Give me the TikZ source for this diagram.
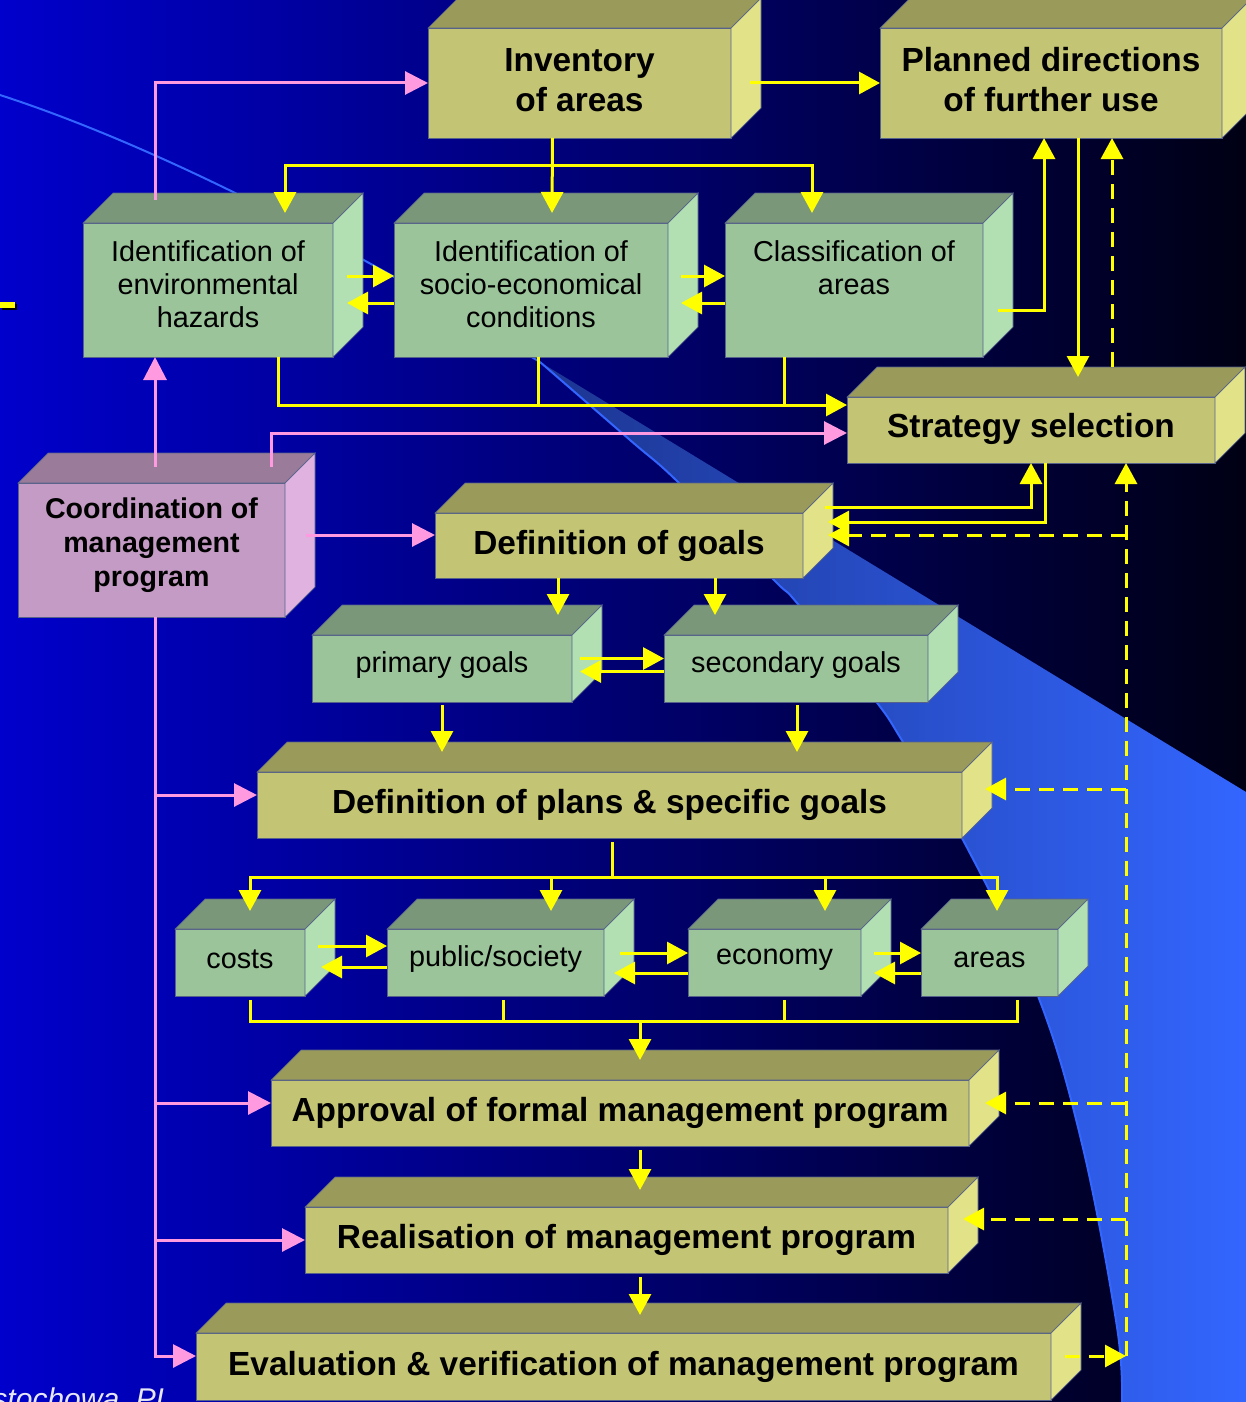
\documentclass[tikz,border=0pt]{standalone}
\usepackage{fontspec}
\setmainfont{Liberation Sans}
\usetikzlibrary{calc,arrows.meta}
\definecolor{bgL}{HTML}{0000CC}
\definecolor{bgM}{HTML}{000088}
\definecolor{bgR}{HTML}{000014}
\definecolor{wdA}{HTML}{1C3590}
\definecolor{wdB}{HTML}{3366FF}
\definecolor{olF}{HTML}{C4C475}
\definecolor{olT}{HTML}{9A9A5A}
\definecolor{olS}{HTML}{E2E288}
\definecolor{grF}{HTML}{9BC49B}
\definecolor{grT}{HTML}{7A977A}
\definecolor{grS}{HTML}{B2E0B2}
\definecolor{mvF}{HTML}{C49BC4}
\definecolor{mvT}{HTML}{9A7B9A}
\definecolor{mvS}{HTML}{E0B2E0}
\definecolor{edgec}{HTML}{56628A}
\definecolor{yel}{HTML}{FFFF00}
\definecolor{pnk}{HTML}{FF99E0}
\definecolor{txtc}{HTML}{E6E6F4}
\tikzset{
  facebase/.style={draw=edgec, line width=0.35pt},
  olivefront/.style={facebase, fill=olF, inner sep=0pt, outer sep=0pt},
  olivetop/.style={facebase, fill=olT},
  oliveside/.style={facebase, fill=olS},
  olivetext/.style={font=\fontsize{16.7}{20}\selectfont\bfseries, align=center, inner sep=0pt},
  greenfront/.style={facebase, fill=grF, inner sep=0pt, outer sep=0pt},
  greentop/.style={facebase, fill=grT},
  greenside/.style={facebase, fill=grS},
  greentext/.style={font=\fontsize{14.4}{16.5}\selectfont, align=center, inner sep=0pt},
  mauvefront/.style={facebase, fill=mvF, inner sep=0pt, outer sep=0pt},
  mauvetop/.style={facebase, fill=mvT},
  mauveside/.style={facebase, fill=mvS},
  mauvetext/.style={font=\fontsize{14.3}{17}\selectfont\bfseries, align=center, inner sep=0pt},
  yl/.style={draw=yel, line width=1.5pt},
  ya/.style={yl, -{Triangle[length=10.5pt,width=11pt]}},
  yd/.style={yl, dash pattern=on 7.5pt off 4.5pt},
  yda/.style={yd, -{Triangle[length=10.5pt,width=11pt]}},
  pl/.style={draw=pnk, line width=1.5pt},
  pa/.style={pl, -{Triangle[length=11.5pt,width=11.5pt]}},
}
% #1 name, #2 x1, #3 y1, #4 x2, #5 y2, #6 kind, #7 text y offset, #8 text
\newcommand\cubebox[8]{%
  \node[#6front, minimum width={(#4-#2)*0.5pt}, minimum height={(#5-#3)*0.5pt}, anchor=north west] (#1) at (#2,#3) {};
  \filldraw[#6top] (#1.north west) -- ++(30,-30) -- ($(#1.north east)+(30,-30)$) -- (#1.north east) -- cycle;
  \filldraw[#6side] (#1.north east) -- ++(30,-30) -- ($(#1.south east)+(30,-30)$) -- (#1.south east) -- cycle;
  \node[#6text] (#1-t) at ($(#1.center)+(0,#7)$) {#8};
}
\begin{document}
\begin{tikzpicture}[x=0.5pt,y=-0.5pt]
\useasboundingbox (0,0) rectangle (1246,1402);
% background
\shade[left color=bgL, middle color=bgM, right color=bgR] (0,0) rectangle (1246,1402);
% light wedge
\shade[left color=wdA, middle color=wdB, right color=wdB]
  (540,362) -- (1246,792) -- (1246,1402) -- (1122,1402)
  -- plot[smooth, tension=0.6] coordinates {(1122,1402) (1117,1327) (1083,1148) (1038,996) (963,840) (903,742) (875,700) (797,603) (774,580) (678,482) (630,440) (540,362)} -- cycle;
\draw[wdB, line width=1pt] (0,95) .. controls (200,160) and (420,290) .. (540,362);
\draw[wdB, line width=1pt] plot[smooth, tension=0.6] coordinates {(540,362) (630,440) (678,482) (774,580) (797,603) (875,700) (903,742) (963,840) (1038,996) (1083,1148) (1117,1327) (1122,1402)};
% small mark on the left
\fill[black] (2,304) rectangle (17,310);
\fill[yel] (0,302) rectangle (15,308);

% boxes
\cubebox{inv}{428}{28}{731}{138}{olive}{-3}{Inventory\\of areas}
\cubebox{plan}{880}{28}{1222}{138}{olive}{-3}{Planned directions\\of further use}
\cubebox{env}{83}{223}{333}{357}{green}{-6}{Identification of\\environmental\\hazards}
\cubebox{soc}{394}{223}{668}{357}{green}{-6}{Identification of\\socio-economical\\conditions}
\cubebox{cls}{725}{223}{983}{357}{green}{-22}{Classification of\\areas}
\cubebox{strat}{847}{397}{1215}{463}{olive}{-1}{Strategy selection}
\cubebox{coord}{18}{483}{285}{617}{mauve}{-5}{Coordination of\\management\\program}
\cubebox{defg}{435}{513}{803}{578}{olive}{0}{Definition of goals}
\cubebox{prim}{312}{635}{572}{702}{green}{-3}{primary goals}
\cubebox{sec}{664}{635}{928}{702}{green}{-3}{secondary goals}
\cubebox{plans}{257}{772}{962}{838}{olive}{0}{Definition of plans \& specific goals}
\cubebox{costs}{175}{929}{305}{996}{green}{-3}{costs}
\cubebox{pub}{387}{929}{604}{996}{green}{-3}{public/society}
\cubebox{eco}{688}{929}{861}{996}{green}{-3}{economy}
\cubebox{areas}{921}{929}{1058}{996}{green}{-3}{areas}
\cubebox{appr}{271}{1080}{969}{1146}{olive}{0}{Approval of formal management program}
\cubebox{real}{305}{1207}{948}{1273}{olive}{0}{Realisation of management program}
\cubebox{eval}{196}{1333}{1051}{1400}{olive}{0}{Evaluation \& verification of management program}

% yellow connectors, top part
\draw[ya] ($(inv.east)+(19,0)$) -- (plan.west);
\coordinate (d0) at ($(inv.south)+(-27,27)$);
\draw[ya] ($(inv.south)+(-27,0)$) -- ($(soc.north)+(21,-10)$);
\draw[ya] (d0) -| ($(env.north)+(77,-10)$);
\draw[ya] (d0) -| ($(cls.north)+(-42,-10)$);
\draw[ya] ($(env.east)+(14,-14)$) -- ($(soc.west)+(0,-14)$);
\draw[ya] ($(soc.west)+(0,13)$) -- ($(env.east)+(14,13)$);
\draw[ya] ($(soc.east)+(13,-14)$) -- ($(cls.west)+(0,-14)$);
\draw[ya] ($(cls.west)+(0,13)$) -- ($(soc.east)+(13,13)$);
\draw[ya] ($(cls.east)+(15,20)$) -| ($(plan.south)+(-7,0)$);
\draw[ya] ($(plan.south)+(27,0)$) -- ($(strat.north)+(47,-20)$);
\draw[yda] ($(strat.north)+(81,-30)$) -- ($(plan.south)+(61,0)$);
\draw[ya] ($(env.south)+(70,0)$) |- ($(strat.west)+(0,-25)$);
\draw[yl] ($(soc.south)+(7,0)$) -- ($(soc.south)+(7,48)$);
\draw[yl] ($(cls.south)+(-70,0)$) -- ($(cls.south)+(-70,48)$);

% strategy <-> goals
\draw[ya] ($(defg.east)+(22,-38.5)$) -| (strat.south);
\draw[ya] ($(strat.south)+(14,0)$) |- ($(defg.east)+(25,-23.5)$);
\coordinate (dvt) at ($(strat.south)+(95,0)$);
\coordinate (dvb) at ($(eval.east)+(75,-10.5)$);
\draw[yda] (dvb) -- (dvt);
\coordinate (dg3) at ($(defg.east)+(25,-10.5)$);
\draw[yda] (dvt |- dg3) -- (dg3);
\coordinate (pl3) at ($(plans.east)+(23,-16)$);
\draw[yda] (dvt |- pl3) -- (pl3);
\coordinate (ap3) at ($(appr.east)+(16,-10)$);
\draw[yda] (dvt |- ap3) -- (ap3);
\coordinate (re3) at ($(real.east)+(15,-21)$);
\draw[yda] (dvt |- re3) -- (re3);
\draw[yda] ($(eval.east)+(14,-10.5)$) -- (dvb);

% goals
\draw[ya] ($(defg.south)+(-61,0)$) -- ($(prim.north)+(116,-20)$);
\draw[ya] ($(defg.south)+(96,0)$) -- ($(sec.north)+(-81,-20)$);
\draw[ya] ($(prim.east)+(8,-10)$) -- ($(sec.west)+(0,-10)$);
\draw[ya] ($(sec.west)+(0,3)$) -- ($(prim.east)+(8,3)$);
\draw[ya] ($(prim.south)+(0,3)$) -- ($(prim.south |- plans.north)+(0,-20)$);
\draw[ya] ($(sec.south)+(1,3)$) -- ($(sec.south |- plans.north)+(1,-20)$);

% plans -> sub goals
\coordinate (dd) at ($(plans.south)+(3,39)$);
\draw[yl] ($(plans.south)+(3,4)$) -- (dd);
\draw[ya] (dd) -| ($(costs.north)+(10,-18)$);
\draw[ya] (dd) -| ($(areas.north)+(7.5,-18)$);
\coordinate (pbt) at ($(pub.north)+(55.5,-18)$);
\draw[ya] (pbt |- dd) -- (pbt);
\coordinate (ect) at ($(eco.north)+(50.5,-18)$);
\draw[ya] (ect |- dd) -- (ect);
\draw[ya] ($(costs.east)+(13,-16.5)$) -- ($(pub.west)+(0,-16.5)$);
\draw[ya] ($(pub.west)+(0,4.5)$) -- ($(costs.east)+(16,4.5)$);
\draw[ya] ($(pub.east)+(16,-9.5)$) -- ($(eco.west)+(0,-9.5)$);
\draw[ya] ($(eco.west)+(0,10.5)$) -- ($(pub.east)+(10,10.5)$);
\draw[ya] ($(eco.east)+(13,-9.5)$) -- ($(areas.west)+(0,-9.5)$);
\draw[ya] ($(areas.west)+(0,10.5)$) -- ($(eco.east)+(13,10.5)$);
\coordinate (cl) at ($(costs.south)+(10,25)$);
\coordinate (ar) at ($(areas.south)+(27.5,4)$);
\draw[yl] ($(costs.south)+(10,4)$) -- (cl) -| (ar);
\draw[yl] ($(pub.south)+(7.5,4)$) -- ($(pub.south)+(7.5,25)$);
\draw[yl] ($(eco.south)+(9.5,4)$) -- ($(eco.south)+(9.5,25)$);
\coordinate (apt) at ($(appr.north)+(20,-20)$);
\draw[ya] (apt |- cl) -- (apt);
\draw[ya] ($(appr.south)+(20,4)$) -- ($(real.north)+(13.5,-17)$);
\draw[ya] ($(real.south)+(13.5,4)$) -- ($(eval.north)+(16.5,-18)$);

% pink connectors
\draw[pa] ($(env.north)+(-53,-23)$) |- (inv.west);
\draw[pa] ($(coord.north)+(3.5,-16)$) -- ($(env.south)+(-53,0)$);
\draw[pa] ($(coord.north)+(119.5,-16)$) |- ($(strat.west)+(0,3)$);
\draw[pa] ($(coord.east)+(21,-15)$) -- ($(defg.west)+(0,-10.5)$);
\coordinate (pv) at ($(coord.south)+(3.5,0)$);
\coordinate (pe) at ($(eval.west)+(0,-10.5)$);
\draw[pa] (pv) |- (pe);
\coordinate (pp) at ($(plans.west)+(0,-10)$);
\draw[pa] (pv |- pp) -- (pp);
\coordinate (pap) at ($(appr.west)+(0,-10)$);
\draw[pa] (pv |- pap) -- (pap);
\draw[pa] (pv |- real.west) -- (real.west);

% footer text (cut by the lower and left edges, as in the reference)
\node[anchor=base east, font=\fontsize{15}{18}\selectfont\itshape, text=txtc, inner sep=0pt] (city) at (173,1409) {Częstochowa, PL};
\end{tikzpicture}
\end{document}
